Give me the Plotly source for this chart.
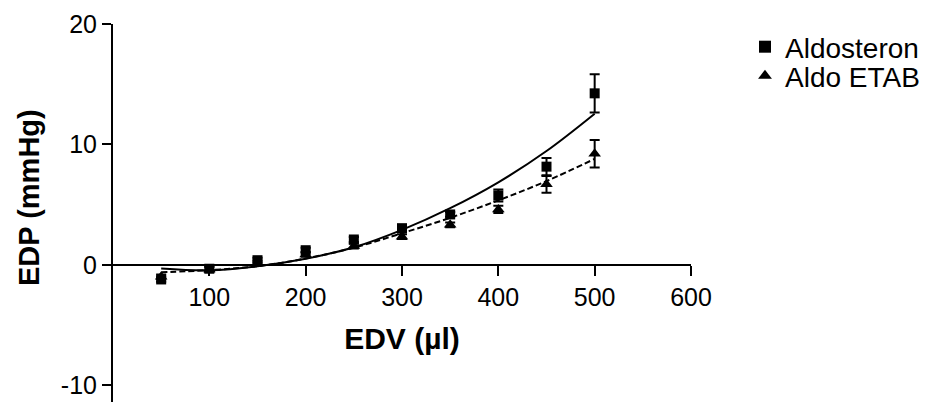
import plotly.graph_objects as go

# Data
edv = [50, 100, 150, 200, 250, 300, 350, 400, 450, 500]

aldo_y = [-1.22, -0.33, 0.38, 1.21, 2.1, 3.04, 4.18, 5.76, 8.15, 14.24]
aldo_err = [0.2, 0.2, 0.2, 0.2, 0.2, 0.2, 0.2, 0.5, 0.72, 1.59]

etab_y = [-1.0, -0.4, 0.15, 0.86, 1.55, 2.33, 3.32, 4.6, 6.68, 9.23]
etab_err = [0.2, 0.2, 0.2, 0.2, 0.2, 0.2, 0.2, 0.3, 0.69, 1.14]

# Fit curves
aldo_fit = [-0.3, -0.45, -0.12, 0.5, 1.45, 2.9, 4.7, 6.85, 9.45, 12.55]
etab_fit = [-0.62, -0.45, -0.12, 0.52, 1.42, 2.62, 3.9, 5.35, 6.95, 8.8]

x_ticks = [100, 200, 300, 400, 500, 600]
y_ticks = [-10, 0, 10, 20]
y_ticktext = ["-10", "0", "10", "20"]

FONT = "Liberation Sans, Arial, sans-serif"
Y_RANGE = [-11.4, 20.0]
X_RANGE = [0, 600]

fig = go.Figure()

fig.add_trace(go.Scatter(
    x=edv, y=aldo_fit, mode="lines", line=dict(color="black", width=2, shape="spline"),
    showlegend=False, hoverinfo="skip"))
fig.add_trace(go.Scatter(
    x=edv, y=etab_fit, mode="lines",
    line=dict(color="black", width=2, dash="6px,3px", shape="spline"),
    showlegend=False, hoverinfo="skip"))

fig.add_trace(go.Scatter(
    x=edv, y=aldo_y, mode="markers", name="Aldosteron", legend="legend",
    marker=dict(symbol="square", size=10, color="black"),
    error_y=dict(type="data", array=aldo_err, color="black", thickness=2, width=5)))
fig.add_trace(go.Scatter(
    x=edv, y=etab_y, mode="markers", name="Aldo ETAB", legend="legend2",
    marker=dict(symbol="triangle-up", size=11, color="black"),
    error_y=dict(type="data", array=etab_err, color="black", thickness=2, width=5)))

x_pos = (0 - Y_RANGE[0]) / (Y_RANGE[1] - Y_RANGE[0])

# page has an 8px body margin: figure is drawn from (8, 8)
OFF = 8
W, H = 949 - OFF, 402 - OFF
L, T, B = 113 - OFF, 24 - OFF, 0
R = W - (691 - OFF)
pw, ph = W - L - R, H - T - B


def px_x(px):
    return (px - OFF - L) / pw


def px_y(py):
    return 1 - (py - OFF - T) / ph


legend_common = dict(xanchor="left", yanchor="middle",
                     font=dict(size=28, family=FONT, color="black"),
                     itemsizing="constant", bgcolor="rgba(0,0,0,0)",
                     borderwidth=0)

fig.update_layout(
    width=W, height=H,
    margin=dict(l=L, r=R, t=T, b=B, autoexpand=False),
    paper_bgcolor="white", plot_bgcolor="white",
    font=dict(family=FONT, color="black", size=24),
    showlegend=True,
    legend=dict(x=px_x(745), y=px_y(47), **legend_common),
    legend2=dict(x=px_x(745), y=px_y(76), **legend_common),
    xaxis=dict(range=X_RANGE, tickvals=x_ticks, showgrid=False, zeroline=False,
               showline=True, linecolor="black", linewidth=2,
               ticks="outside", ticklen=10, tickwidth=2, tickcolor="black",
               anchor="free", position=x_pos, automargin=False,
               tickfont=dict(size=25, family=FONT),
               title=dict(text="<b>EDV (µl)</b>", font=dict(size=30, family=FONT), standoff=17)),
    yaxis=dict(range=Y_RANGE, tickvals=y_ticks, ticktext=y_ticktext,
               showgrid=False, zeroline=False, automargin=False,
               showline=True, linecolor="black", linewidth=2,
               ticks="outside", ticklen=9, tickwidth=2, tickcolor="black",
               tickfont=dict(size=25, family=FONT)),
    annotations=[dict(text="<b>EDP (mmHg)</b>", xref="paper", yref="paper",
                      x=px_x(29), y=px_y(198),
                      xanchor="center", yanchor="middle", textangle=-90, showarrow=False,
                      font=dict(size=29, family=FONT, color="black"))],
)

fig.write_html("out.html")
